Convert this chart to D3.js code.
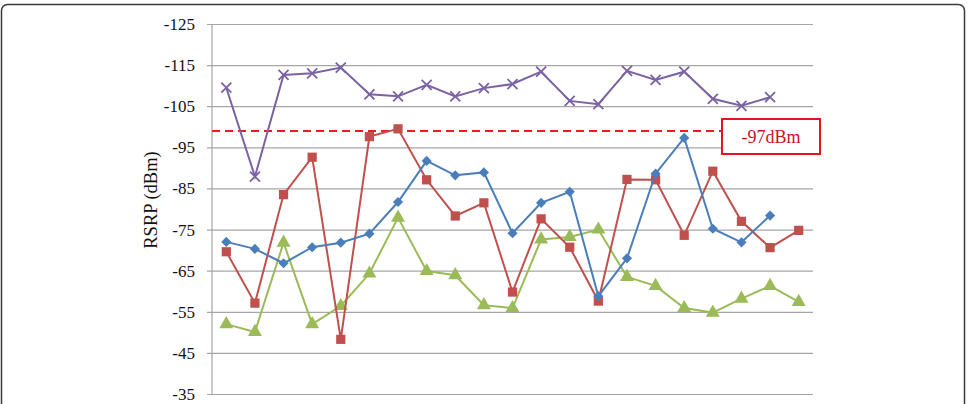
<!DOCTYPE html>
<html><head><meta charset="utf-8">
<script src="https://cdn.jsdelivr.net/npm/d3@7"></script>
<style>html,body{margin:0;padding:0;background:#fff;}svg{display:block;}</style>
</head><body>
<script>
const categories = d3.range(1, 22);
const blueDiamond = [-72.0,-70.3,-66.8,-70.7,-71.8,-74.0,-81.7,-91.7,-88.2,-88.9,-74.1,-81.5,-84.2,-58.8,-68.0,-88.6,-97.3,-75.2,-71.9,-78.4];
const redSquare = [-69.6,-57.1,-83.5,-92.6,-48.3,-97.6,-99.5,-87.1,-78.3,-81.5,-59.8,-77.6,-70.7,-57.6,-87.2,-87.1,-73.6,-89.2,-77.0,-70.6,-74.8];
const greenTriangle = [-52.0,-50.1,-71.8,-52.0,-56.4,-64.3,-77.9,-64.9,-63.9,-56.6,-55.9,-72.6,-73.2,-75.0,-63.5,-61.3,-55.9,-54.8,-58.2,-61.3,-57.4];
const purpleCross = [-109.5,-87.9,-112.6,-113.0,-114.4,-107.9,-107.4,-110.2,-107.4,-109.4,-110.4,-113.4,-106.3,-105.5,-113.6,-111.4,-113.4,-106.8,-105.1,-107.2];
const yTicks = [-125,-115,-105,-95,-85,-75,-65,-55,-45,-35];
const thresholdValue = -99;
const thresholdLabel = "-97dBm";
const yLabel = "RSRP (dBm)";

const W = 968, H = 404;
const svg = d3.select("body").append("svg").attr("width", W).attr("height", H);

svg.append("rect").attr("x", 1.5).attr("y", 4.5).attr("width", 963).attr("height", 420)
  .attr("rx", 6).attr("fill", "#fff").attr("stroke", "#3a3a3a").attr("stroke-width", 1.5);

const x = d3.scalePoint().domain(categories).range([212, 813]).padding(0.5);
const y = d3.scaleLinear().domain([-125, -35]).range([24, 394]);

const ax = d3.axisLeft(y).tickValues(yTicks).tickSizeInner(-(813 - 207)).tickSizeOuter(0)
  .tickPadding(12).tickFormat(d => String(d));
const g = svg.append("g").attr("transform", "translate(207,0)").call(ax);
g.select(".domain").remove();
g.selectAll(".tick line").attr("stroke", "#a6a6a6").attr("stroke-width", 1.2);
g.selectAll(".tick text").attr("fill", "#111").style("font-family", "'Liberation Serif','Times New Roman',serif").style("font-size", "17px");

svg.append("line").attr("x1", 212).attr("x2", 212).attr("y1", y(-125)).attr("y2", y(-35))
  .attr("stroke", "#a6a6a6").attr("stroke-width", 1.2);

svg.append("text").attr("transform", `translate(157,${200}) rotate(-90)`).attr("text-anchor", "middle")
  .style("font-family", "'Liberation Serif','Times New Roman',serif").style("font-size", "18.5px").attr("fill", "#111").text(yLabel);

svg.append("line").attr("x1", 212).attr("x2", 722).attr("y1", y(thresholdValue)).attr("y2", y(thresholdValue))
  .attr("stroke", "#ee1c1c").attr("stroke-width", 2).attr("stroke-dasharray", "8,5");
svg.append("rect").attr("x", 722).attr("y", 119).attr("width", 98).attr("height", 35)
  .attr("fill", "#fff").attr("stroke", "#e8141c").attr("stroke-width", 2);
svg.append("text").attr("x", 771).attr("y", 143).attr("text-anchor", "middle")
  .style("font-family", "'Liberation Serif','Times New Roman',serif").style("font-size", "18px").attr("fill", "#c8141c").text(thresholdLabel);

function drawSeries(vals, color, kind, size) {
  const line = d3.line().x((d, i) => x(categories[i])).y(d => y(d));
  svg.append("path").datum(vals).attr("d", line).attr("fill", "none").attr("stroke", color).attr("stroke-width", 2);
  const pts = svg.append("g").selectAll("path.m").data(vals).join("path")
    .attr("transform", (d, i) => `translate(${x(categories[i])},${y(d)})` + (kind === "diamond" ? " rotate(45)" : ""));
  if (kind === "cross") {
    pts.attr("d", "M-5,-5L5,5M-5,5L5,-5").attr("stroke", color).attr("stroke-width", 1.8).attr("fill", "none");
  } else {
    const t = kind === "triangle" ? d3.symbolTriangle : d3.symbolSquare;
    pts.attr("d", d3.symbol().type(t).size(size)).attr("fill", color);
  }
}
drawSeries(purpleCross, "#7a62a3", "cross", 0);
drawSeries(greenTriangle, "#9bbb59", "triangle", 85);
drawSeries(redSquare, "#c0504d", "square", 85);
drawSeries(blueDiamond, "#4a7ebb", "diamond", 52);
</script>
</body></html>
